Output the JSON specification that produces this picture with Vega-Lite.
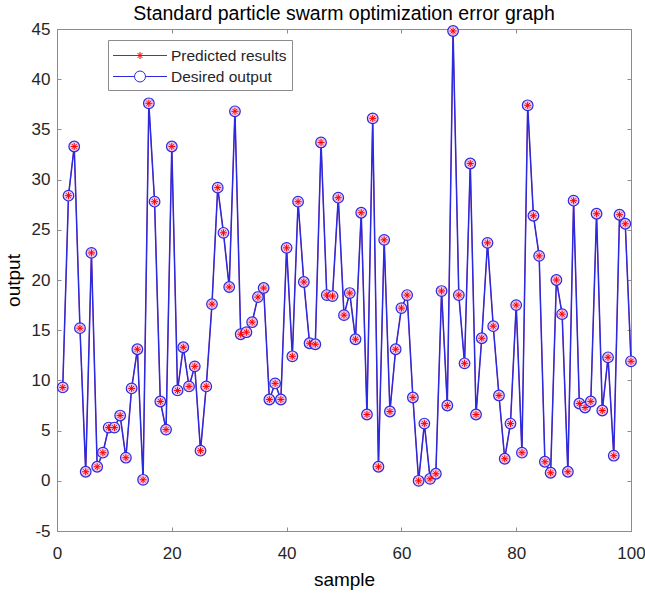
{
  "$schema": "https://vega.github.io/schema/vega-lite/v6.json",
  "width": 574,
  "height": 502,
  "autosize": {"type": "none"},
  "padding": {"left": 57, "top": 29, "right": 14, "bottom": 62},
  "background": "white",
  "title": {"text": "Standard particle swarm optimization error graph", "font": "Liberation Sans", "fontSize": 19.5, "fontWeight": "normal", "color": "#000000", "offset": -4},
  "config": {
    "view": {"stroke": "#8c8c8c", "strokeWidth": 1},
    "axis": {"grid": false, "domainColor": "#8c8c8c", "tickColor": "#8c8c8c", "tickSize": -4, "labelFont": "Liberation Sans", "labelFontSize": 17, "labelColor": "#262626", "titleFont": "Liberation Sans", "titleFontSize": 19, "titleFontWeight": "normal", "titleColor": "#000000"}
  },
  "data": {"values": [
    {"sample": 1, "output": 9.3}, {"sample": 2, "output": 28.4}, {"sample": 3, "output": 33.3}, {"sample": 4, "output": 15.2}, {"sample": 5, "output": 0.9},
    {"sample": 6, "output": 22.7}, {"sample": 7, "output": 1.4}, {"sample": 8, "output": 2.8}, {"sample": 9, "output": 5.3}, {"sample": 10, "output": 5.3},
    {"sample": 11, "output": 6.5}, {"sample": 12, "output": 2.3}, {"sample": 13, "output": 9.2}, {"sample": 14, "output": 13.1}, {"sample": 15, "output": 0.1},
    {"sample": 16, "output": 37.6}, {"sample": 17, "output": 27.8}, {"sample": 18, "output": 7.9}, {"sample": 19, "output": 5.1}, {"sample": 20, "output": 33.3},
    {"sample": 21, "output": 9.0}, {"sample": 22, "output": 13.3}, {"sample": 23, "output": 9.4}, {"sample": 24, "output": 11.4}, {"sample": 25, "output": 3.0},
    {"sample": 26, "output": 9.4}, {"sample": 27, "output": 17.6}, {"sample": 28, "output": 29.2}, {"sample": 29, "output": 24.7}, {"sample": 30, "output": 19.3},
    {"sample": 31, "output": 36.8}, {"sample": 32, "output": 14.6}, {"sample": 33, "output": 14.8}, {"sample": 34, "output": 15.8}, {"sample": 35, "output": 18.3},
    {"sample": 36, "output": 19.2}, {"sample": 37, "output": 8.1}, {"sample": 38, "output": 9.7}, {"sample": 39, "output": 8.1}, {"sample": 40, "output": 23.2},
    {"sample": 41, "output": 12.4}, {"sample": 42, "output": 27.8}, {"sample": 43, "output": 19.8}, {"sample": 44, "output": 13.7}, {"sample": 45, "output": 13.6},
    {"sample": 46, "output": 33.7}, {"sample": 47, "output": 18.5}, {"sample": 48, "output": 18.4}, {"sample": 49, "output": 28.2}, {"sample": 50, "output": 16.5},
    {"sample": 51, "output": 18.7}, {"sample": 52, "output": 14.1}, {"sample": 53, "output": 26.7}, {"sample": 54, "output": 6.6}, {"sample": 55, "output": 36.1},
    {"sample": 56, "output": 1.4}, {"sample": 57, "output": 24.0}, {"sample": 58, "output": 6.9}, {"sample": 59, "output": 13.1}, {"sample": 60, "output": 17.2},
    {"sample": 61, "output": 18.5}, {"sample": 62, "output": 8.3}, {"sample": 63, "output": 0.0}, {"sample": 64, "output": 5.7}, {"sample": 65, "output": 0.2},
    {"sample": 66, "output": 0.7}, {"sample": 67, "output": 18.9}, {"sample": 68, "output": 7.5}, {"sample": 69, "output": 44.8}, {"sample": 70, "output": 18.5},
    {"sample": 71, "output": 11.7}, {"sample": 72, "output": 31.6}, {"sample": 73, "output": 6.6}, {"sample": 74, "output": 14.2}, {"sample": 75, "output": 23.7},
    {"sample": 76, "output": 15.4}, {"sample": 77, "output": 8.5}, {"sample": 78, "output": 2.2}, {"sample": 79, "output": 5.7}, {"sample": 80, "output": 17.5},
    {"sample": 81, "output": 2.8}, {"sample": 82, "output": 37.4}, {"sample": 83, "output": 26.4}, {"sample": 84, "output": 22.4}, {"sample": 85, "output": 1.9},
    {"sample": 86, "output": 0.8}, {"sample": 87, "output": 20.0}, {"sample": 88, "output": 16.6}, {"sample": 89, "output": 0.9}, {"sample": 90, "output": 27.9},
    {"sample": 91, "output": 7.7}, {"sample": 92, "output": 7.3}, {"sample": 93, "output": 7.9}, {"sample": 94, "output": 26.6}, {"sample": 95, "output": 7.0},
    {"sample": 96, "output": 12.3}, {"sample": 97, "output": 2.5}, {"sample": 98, "output": 26.5}, {"sample": 99, "output": 25.6}, {"sample": 100, "output": 11.9}
  ]},
  "layer": [
    {
      "mark": {"type": "line", "strokeWidth": 0.8},
      "encoding": {
        "x": {"field": "sample", "type": "quantitative", "scale": {"domain": [0, 100], "nice": false}, "axis": {"orient": "bottom", "title": "sample", "values": [0, 20, 40, 60, 80, 100], "labelPadding": 18, "titlePadding": 9, "labelFlush": false}},
        "y": {"field": "output", "type": "quantitative", "scale": {"domain": [-5, 45], "nice": false, "zero": false}, "axis": {"orient": "left", "title": "output", "values": [-5, 0, 5, 10, 15, 20, 25, 30, 35, 40, 45], "labelPadding": 11, "titlePadding": 8, "labelExpr": "datum.value < 0 ? '-' + abs(datum.value) : '' + datum.value"}},
        "color": {"datum": "Predicted results", "type": "nominal",
          "scale": {"domain": ["Predicted results", "Desired output"], "range": ["#ff0000", "#2a2ae0"]},
          "legend": {"orient": "none", "legendX": 51, "legendY": 11, "title": null, "padding": 5, "strokeColor": "#8c8c8c", "fillColor": "white", "cornerRadius": 0,
            "symbolSize": 400, "symbolStrokeWidth": 1, "symbolType": "circle", "labelFont": "Liberation Sans", "labelFontSize": 15.5, "labelColor": "#262626", "labelOffset": 37, "rowPadding": 2,
            "encode": {"symbols": {"update": {
              "shape": {"signal": "datum.value === 'Predicted results' ? 'M-1.05,0H4.35M1.65,-0.35V0.35M1.3,0H2.0M1.4,-0.25L1.9,0.25M1.4,0.25L1.9,-0.25' : 'M-1.05,0H1.1M2.2,0H4.35M1.1,0C1.1,-0.304 1.346,-0.55 1.65,-0.55C1.954,-0.55 2.2,-0.304 2.2,0C2.2,0.304 1.954,0.55 1.65,0.55C1.346,0.55 1.1,0.304 1.1,0'"},
              "fill": {"value": "transparent"}}}}}
        }
      }
    },
    {
      "mark": {"type": "line", "strokeWidth": 1.5},
      "encoding": {
        "x": {"field": "sample", "type": "quantitative", "axis": {"orient": "top", "labels": false, "title": null, "domain": false, "values": [0, 20, 40, 60, 80, 100]}},
        "y": {"field": "output", "type": "quantitative", "axis": {"orient": "right", "labels": false, "title": null, "domain": false, "values": [-5, 0, 5, 10, 15, 20, 25, 30, 35, 40, 45]}},
        "color": {"datum": "Desired output", "type": "nominal"}
      }
    },
    {
      "mark": {"type": "point", "filled": false, "shape": "circle", "size": 113, "strokeWidth": 1.2, "fill": "#f2c6e6", "fillOpacity": 1, "opacity": 1},
      "encoding": {
        "x": {"field": "sample", "type": "quantitative", "axis": null},
        "y": {"field": "output", "type": "quantitative", "axis": null},
        "color": {"datum": "Desired output", "type": "nominal"}
      }
    },
    {
      "mark": {"type": "point", "filled": false, "shape": "M0,-1V1M-1,0H1M-0.7,-0.7L0.7,0.7M-0.7,0.7L0.7,-0.7", "size": 49, "strokeWidth": 1, "opacity": 1},
      "encoding": {
        "x": {"field": "sample", "type": "quantitative", "axis": null},
        "y": {"field": "output", "type": "quantitative", "axis": null},
        "color": {"datum": "Predicted results", "type": "nominal"}
      }
    }
  ]
}
